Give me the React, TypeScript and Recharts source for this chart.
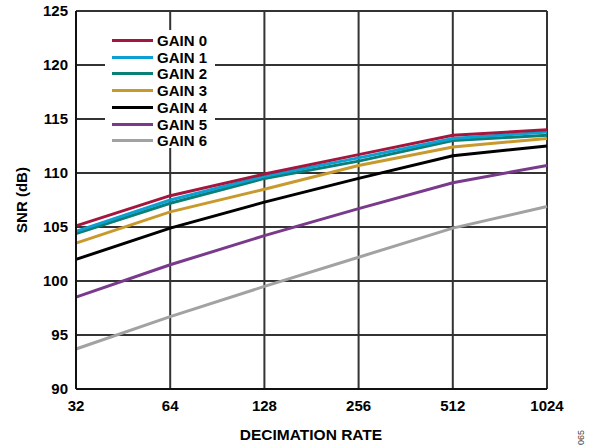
import { LineChart, Line, XAxis, YAxis, CartesianGrid, Legend } from 'recharts';

const rates = ['32', '64', '128', '256', '512', '1024'];
const yTicks = [90, 95, 100, 105, 110, 115, 120, 125];

const gain0 = [105.1, 107.9, 109.9, 111.7, 113.5, 114.0];
const gain1 = [104.6, 107.5, 109.7, 111.4, 113.2, 113.8];
const gain2 = [104.4, 107.2, 109.5, 111.1, 113.0, 113.5];
const gain3 = [103.5, 106.4, 108.5, 110.7, 112.4, 113.2];
const gain4 = [102.0, 104.9, 107.3, 109.5, 111.6, 112.5];
const gain5 = [98.5, 101.5, 104.2, 106.7, 109.1, 110.7];
const gain6 = [93.7, 96.7, 99.5, 102.2, 104.9, 106.9];

const series = [
  { key: 'g0', name: 'GAIN 0', values: gain0, color: '#a3173f' },
  { key: 'g1', name: 'GAIN 1', values: gain1, color: '#0b9fd3' },
  { key: 'g2', name: 'GAIN 2', values: gain2, color: '#0a7f77' },
  { key: 'g3', name: 'GAIN 3', values: gain3, color: '#c89a2e' },
  { key: 'g4', name: 'GAIN 4', values: gain4, color: '#000000' },
  { key: 'g5', name: 'GAIN 5', values: gain5, color: '#7a3a8c' },
  { key: 'g6', name: 'GAIN 6', values: gain6, color: '#a2a2a2' },
];

const data = rates.map((r, i) => {
  const row: Record<string, string | number> = { rate: r };
  series.forEach((s) => {
    row[s.key] = s.values[i];
  });
  return row;
});

const font = '"Liberation Sans", Arial, sans-serif';

// eslint-disable-next-line @typescript-eslint/no-explicit-any
const XTick = (props: any) => {
  const { x, payload } = props;
  return (
    <text x={x} y={411} textAnchor="middle" fontFamily={font} fontWeight="bold" fontSize={15} fill="#000">
      {payload.value}
    </text>
  );
};

// eslint-disable-next-line @typescript-eslint/no-explicit-any
const YTick = (props: any) => {
  const { y, payload } = props;
  return (
    <text x={68} y={y} dy={5} textAnchor="end" fontFamily={font} fontWeight="bold" fontSize={15} fill="#000">
      {payload.value}
    </text>
  );
};

const xTitle = () => (
  <text x={311} y={440} textAnchor="middle" fontFamily={font} fontWeight="bold" fontSize={15.5} fill="#000">
    DECIMATION RATE
  </text>
);

const yTitle = () => (
  <text x={27} y={200} transform="rotate(-90 27 200)" textAnchor="middle" fontFamily={font} fontWeight="bold" fontSize={15} fill="#000">
    SNR (dB)
  </text>
);

const renderLegend = () => (
  <div style={{ background: '#fff', width: 110, height: 118, position: 'relative' }}>
    {series.map((s, i) => (
      <div
        key={s.key}
        style={{ position: 'absolute', left: 7, top: 2 + i * 16.7, height: 17, display: 'flex', alignItems: 'center' }}
      >
        <span style={{ width: 41, height: 3, background: s.color, display: 'inline-block' }} />
        <span style={{ marginLeft: 4, fontFamily: font, fontWeight: 'bold', fontSize: 15, color: '#000', lineHeight: '17px' }}>
          {s.name}
        </span>
      </div>
    ))}
  </div>
);

export default function App() {
  return (
    <div style={{ position: 'absolute', left: 0, top: 0, width: 591, height: 446, background: '#fff' }}>
      <LineChart width={591} height={446} data={data} margin={{ top: 11, right: 44, left: 0, bottom: 0 }}>
        <CartesianGrid stroke="#333" strokeWidth={2} />
        <XAxis
          dataKey="rate"
          height={57}
          padding={{ left: 0, right: 0 }}
          tickLine={false}
          axisLine={{ stroke: '#111', strokeWidth: 2 }}
          tick={<XTick />}
          interval={0}
          label={{ content: xTitle }}
        />
        <YAxis
          width={76}
          domain={[90, 125]}
          ticks={yTicks}
          interval={0}
          tickLine={false}
          axisLine={{ stroke: '#111', strokeWidth: 2 }}
          tick={<YTick />}
          label={{ content: yTitle }}
        />
        <Legend
          layout="vertical"
          align="center"
          verticalAlign="middle"
          content={renderLegend}
          wrapperStyle={{ position: 'absolute', left: 105, top: 30, width: 110, height: 118 }}
        />
        {[...series].reverse().map((s) => (
          <Line
            key={s.key}
            dataKey={s.key}
            name={s.name}
            stroke={s.color}
            strokeWidth={3}
            dot={false}
            isAnimationActive={false}
          />
        ))}
      </LineChart>
      <div
        style={{
          position: 'absolute',
          left: 576,
          top: 445,
          fontFamily: font,
          fontSize: 9,
          color: '#444',
          transform: 'rotate(-90deg)',
          transformOrigin: 'left top',
        }}
      >
        065
      </div>
    </div>
  );
}
